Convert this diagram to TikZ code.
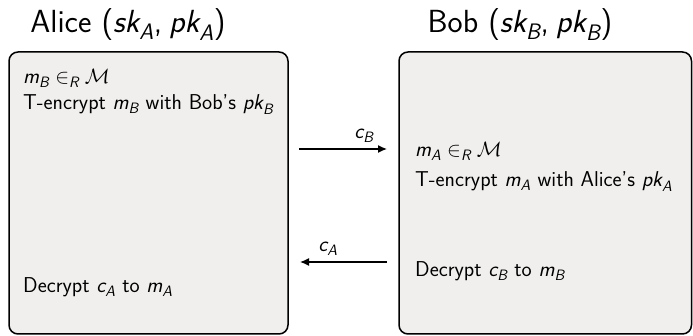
\documentclass[tikz,border=0pt]{standalone}
\usepackage{amsmath}
\usepackage{fontspec}
\usetikzlibrary{arrows.meta}
\definecolor{boxfill}{RGB}{240,239,237}
\newcommand{\vi}[1]{\textit{#1}}
\begin{document}
\begin{tikzpicture}[x=1pt,y=-1pt,
  party/.style={draw=black,line width=1.5pt,rounded corners=9pt,fill=boxfill},
  title/.style={anchor=base,font=\sffamily\fontsize{32}{38}\selectfont,inner sep=0pt},
  step line/.style={anchor=base west,font=\sffamily\fontsize{21.5}{26}\selectfont,inner sep=0pt},
  msg/.style={line width=1.3pt,-{Latex[length=9pt,width=8pt]}},
  lbl/.style={font=\sffamily\fontsize{21.5}{26}\selectfont,inner sep=0pt,anchor=base}]
\useasboundingbox (0,0) rectangle (693,336);
\sffamily
% boxes
\draw[party] (9,52) rectangle (288,334) node[pos=0,anchor=north west,inner sep=0pt] (alice) {};
\draw[party] (399,52) rectangle (691.5,334) node[pos=0,anchor=north west,inner sep=0pt] (bob) {};
% titles
\node[title] (talice) at (128,33) {Alice $\mbox{(}\vi{sk}_{\vi{A}}\mbox{,}\;\vi{pk}_{\vi{A}}\mbox{)}$};
\node[title] (tbob) at (520,33) {Bob $\mbox{(}\vi{sk}_{\vi{B}}\mbox{,}\;\vi{pk}_{\vi{B}}\mbox{)}$};
% Alice steps
\node[step line] (a1) at (23,84) {$\vi{m}_{\vi{B}} \in_{\vi{R}} \mathcal{M}$};
\node[step line] (a2) at (23,110) {T-encrypt $\vi{m}_{\vi{B}}$ with Bob's $\vi{pk}_{\vi{B}}$};
\node[step line] (a3) at (23,293) {Decrypt $\vi{c}_{\vi{A}}$ to $\vi{m}_{\vi{A}}$};
% Bob steps
\node[step line] (b1) at (415,157) {$\vi{m}_{\vi{A}} \in_{\vi{R}} \mathcal{M}$};
\node[step line] (b2) at (415,187) {T-encrypt $\vi{m}_{\vi{A}}$ with Alice's $\vi{pk}_{\vi{A}}$};
\node[step line] (b3) at (415,277) {Decrypt $\vi{c}_{\vi{B}}$ to $\vi{m}_{\vi{B}}$};
% messages
\coordinate (cbs) at (299,149);
\coordinate (cbe) at (387,149);
\coordinate (cas) at (387,262);
\coordinate (cae) at (300,262);
\draw[msg] (cbs) -- (cbe);
\node[lbl] (cb) at (364,139) {$\vi{c}_{\vi{B}}$};
\draw[msg] (cas) -- (cae);
\node[lbl] (ca) at (328,252) {$\vi{c}_{\vi{A}}$};
\end{tikzpicture}
\end{document}
